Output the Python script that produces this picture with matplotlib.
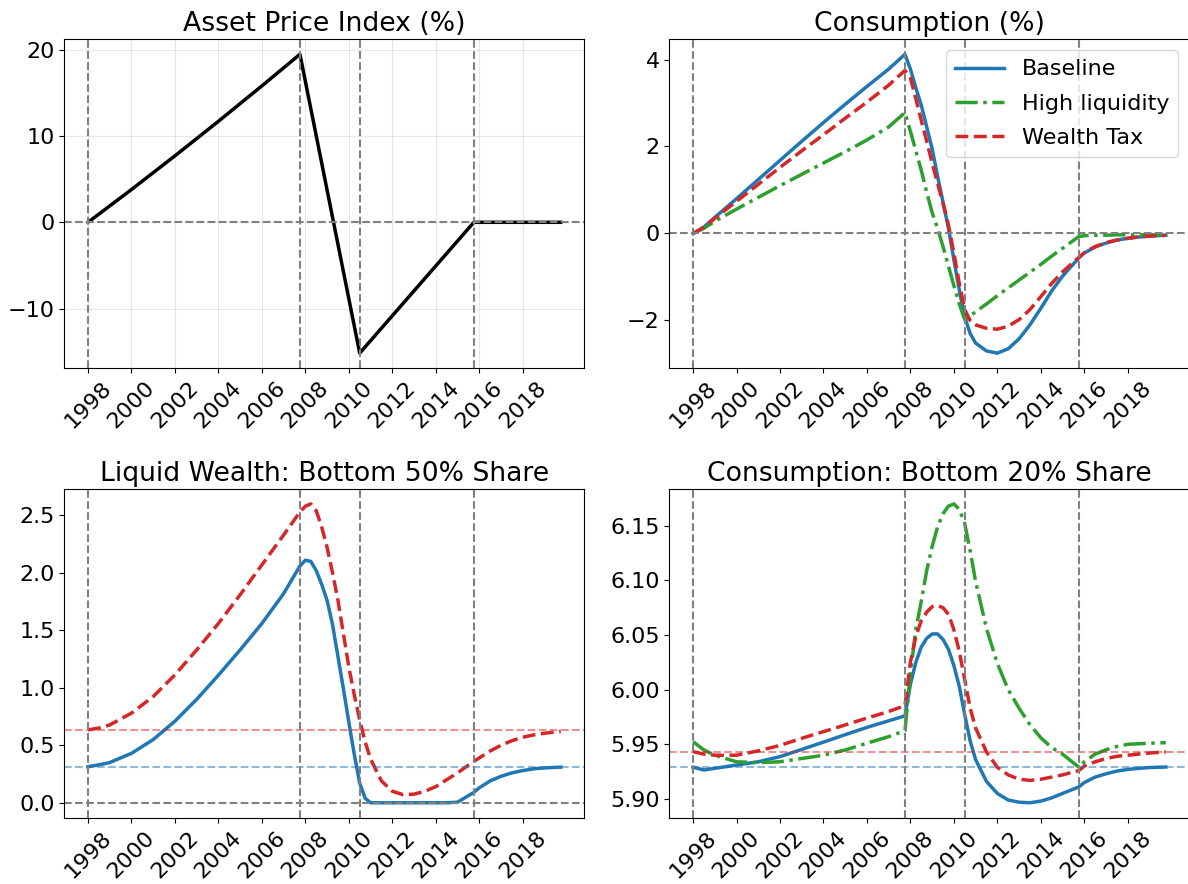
import matplotlib
matplotlib.use("Agg")
import matplotlib.pyplot as plt

plt.rcParams["font.size"] = 16

# model periods (years) shared by the simulated series
years = [1998, 1998.5, 1999, 2000, 2001, 2002, 2003, 2004, 2005, 2006, 2007, 2007.75,
         2008, 2008.25, 2008.5, 2008.75, 2009, 2009.25, 2009.5, 2009.75,
         2010, 2010.25, 2010.5, 2010.75, 2011, 2011.5, 2012, 2012.5, 2013, 2013.5,
         2014, 2014.5, 2015, 2015.75, 2016, 2016.5, 2017, 2017.5, 2018, 2018.5,
         2019, 2019.75]

# asset price path is piecewise: boom, bust, recovery, flat
asset_years = [1998, 2000, 2002, 2004, 2006, 2007.75, 2010.5, 2015.75, 2019.75]
asset_price = [0, 3.8, 7.7, 11.7, 15.8, 19.46, -15.15, 0, 0]

# boom start, peak, trough, recovery
events = [1998, 2007.75, 2010.5, 2015.75]
tick_years = list(range(1998, 2019, 2))

# consumption deviation (%)
cons_base = [0, 0.15, 0.37, 0.80, 1.24, 1.68, 2.12, 2.55, 2.97, 3.38, 3.78, 4.12,
             3.78, 3.35, 2.95, 2.45, 1.95, 1.32, 0.72, 0.12,
             -0.60, -1.30, -1.92, -2.30, -2.52, -2.70, -2.75, -2.65, -2.42, -2.10,
             -1.72, -1.32, -0.98, -0.56, -0.45, -0.31, -0.22, -0.15, -0.11, -0.08,
             -0.06, -0.04]
cons_liq = [0, 0.12, 0.28, 0.56, 0.83, 1.10, 1.36, 1.62, 1.88, 2.15, 2.45, 2.78,
            2.35, 1.90, 1.45, 0.95, 0.48, 0.12, -0.30, -0.75,
            -1.20, -1.62, -1.98, -1.89, -1.80, -1.62, -1.43, -1.25, -1.07, -0.89,
            -0.71, -0.52, -0.34, -0.07, -0.05, -0.04, -0.04, -0.03, -0.03, -0.03,
            -0.03, -0.03]
cons_wtax = [0, 0.14, 0.35, 0.74, 1.13, 1.52, 1.90, 2.27, 2.65, 3.02, 3.41, 3.75,
             3.58, 3.10, 2.60, 2.12, 1.62, 1.15, 0.70, 0.20,
             -0.45, -1.15, -1.75, -2.00, -2.10, -2.18, -2.20, -2.13, -1.98, -1.75,
             -1.45, -1.15, -0.88, -0.55, -0.44, -0.30, -0.21, -0.15, -0.11, -0.08,
             -0.06, -0.04]

# liquid wealth share of the bottom 50%
liq_base = [0.314, 0.33, 0.35, 0.43, 0.55, 0.71, 0.90, 1.11, 1.33, 1.56, 1.82, 2.06,
            2.11, 2.10, 2.02, 1.90, 1.76, 1.55, 1.27, 0.99,
            0.70, 0.42, 0.17, 0.04, 0.0, 0.0, 0.0, 0.0, 0.0, 0.0,
            0.0, 0.0, 0.005, 0.09, 0.13, 0.19, 0.23, 0.26, 0.28, 0.295,
            0.303, 0.31]
liq_wtax = [0.634, 0.65, 0.677, 0.78, 0.924, 1.113, 1.33, 1.56, 1.81, 2.07, 2.33, 2.53,
            2.58, 2.60, 2.54, 2.40, 2.22, 2.00, 1.76, 1.47,
            1.18, 0.94, 0.72, 0.53, 0.38, 0.19, 0.10, 0.07, 0.075, 0.10,
            0.14, 0.20, 0.26, 0.36, 0.39, 0.45, 0.50, 0.54, 0.57, 0.59,
            0.605, 0.62]

# consumption share of the bottom 20%
share_base = [5.929, 5.9265, 5.928, 5.931, 5.934, 5.9387, 5.9453, 5.952, 5.9588, 5.9655, 5.9715, 5.976,
              6.005, 6.025, 6.039, 6.047, 6.051, 6.051, 6.046, 6.037,
              6.022, 6.003, 5.977, 5.953, 5.936, 5.916, 5.905, 5.899, 5.897, 5.8965,
              5.898, 5.901, 5.905, 5.911, 5.915, 5.920, 5.923, 5.9255, 5.927, 5.928,
              5.9287, 5.9292]
share_liq = [5.9524, 5.9448, 5.940, 5.934, 5.9332, 5.934, 5.937, 5.940, 5.9448, 5.951, 5.957, 5.9625,
             6.015, 6.055, 6.081, 6.109, 6.131, 6.149, 6.161, 6.168,
             6.170, 6.165, 6.152, 6.127, 6.099, 6.056, 6.024, 6.0, 5.983, 5.968,
             5.956, 5.947, 5.941, 5.929, 5.934, 5.941, 5.945, 5.948, 5.950, 5.9505,
             5.951, 5.9515]
share_wtax = [5.9433, 5.941, 5.940, 5.940, 5.944, 5.949, 5.9555, 5.9616, 5.9677, 5.974, 5.980, 5.9854,
              6.025, 6.049, 6.063, 6.071, 6.076, 6.077, 6.075, 6.069,
              6.055, 6.035, 6.009, 5.983, 5.965, 5.943, 5.929, 5.922, 5.918, 5.917,
              5.918, 5.920, 5.922, 5.926, 5.930, 5.934, 5.937, 5.939, 5.940, 5.941,
              5.942, 5.943]

LW = 2.5


def mark_events(ax, zero_line=True):
    for x in events:
        ax.axvline(x, color="gray", linestyle="--", linewidth=1.5)
    if zero_line:
        ax.axhline(0, color="gray", linestyle="--", linewidth=1.5)
    ax.set_xticks(tick_years)
    ax.tick_params(axis="x", labelrotation=45)


fig, axes = plt.subplots(2, 2, figsize=(11.88, 8.84))
fig.subplots_adjust(left=0.0542, right=1.0012, bottom=0.075, top=0.9555,
                    wspace=0.1635, hspace=0.3678)

ax = axes[0, 0]
ax.plot(asset_years, asset_price, color="black", linewidth=2.5)
mark_events(ax)
ax.grid(True, alpha=0.3)
ax.set_title("Asset Price Index (%)")

ax = axes[0, 1]
ax.plot(years, cons_base, color="tab:blue", linewidth=LW, label="Baseline")
ax.plot(years, cons_liq, color="tab:green", linestyle="-.", linewidth=LW, label="High liquidity")
ax.plot(years, cons_wtax, color="tab:red", linestyle="--", linewidth=LW, label="Wealth Tax")
mark_events(ax)
ax.legend(loc="upper right", handlelength=2.2, labelspacing=0.65)
ax.set_title("Consumption (%)")

ax = axes[1, 0]
ax.plot(years, liq_base, color="tab:blue", linewidth=LW)
ax.plot(years, liq_wtax, color="tab:red", linestyle="--", linewidth=LW)
ax.axhline(liq_wtax[0], color="tab:red", linestyle="--", linewidth=1.5, alpha=0.5)
ax.axhline(liq_base[0], color="tab:blue", linestyle="--", linewidth=1.5, alpha=0.5)
mark_events(ax)
ax.set_title("Liquid Wealth: Bottom 50% Share")

ax = axes[1, 1]
ax.plot(years, share_base, color="tab:blue", linewidth=LW)
ax.plot(years, share_liq, color="tab:green", linestyle="-.", linewidth=LW)
ax.plot(years, share_wtax, color="tab:red", linestyle="--", linewidth=LW)
ax.axhline(share_wtax[0], color="tab:red", linestyle="--", linewidth=1.5, alpha=0.5)
ax.axhline(share_base[0], color="tab:blue", linestyle="--", linewidth=1.5, alpha=0.5)
mark_events(ax, zero_line=False)
ax.set_title("Consumption: Bottom 20% Share")

fig.savefig("out.png", dpi=100)
